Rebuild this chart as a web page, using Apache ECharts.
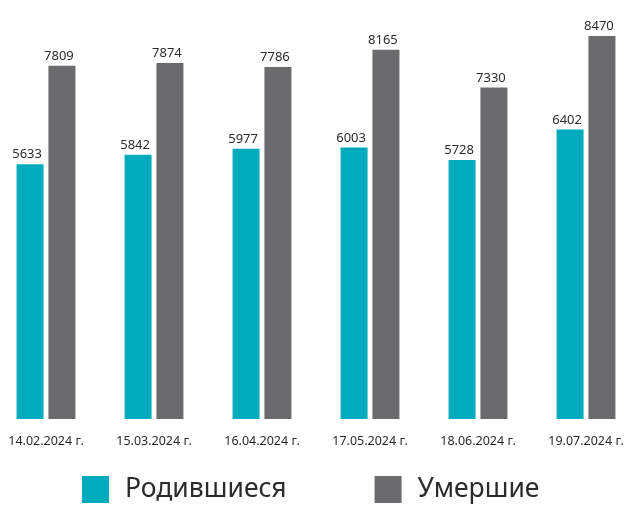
<!DOCTYPE html>
<html>
<head>
<meta charset="utf-8">
<script src="https://cdn.jsdelivr.net/npm/echarts@6/dist/echarts.min.js"></script>
<style>html,body{margin:0;padding:0;background:#fff;overflow:hidden}#c{width:648px;height:506px;margin-left:-8px}</style>
</head>
<body>
<div id="c"></div>
<script>
const categories = ['14.02.2024 г.', '15.03.2024 г.', '16.04.2024 г.', '17.05.2024 г.', '18.06.2024 г.', '19.07.2024 г.'];
const born = [5633, 5842, 5977, 6003, 5728, 6402];
const died = [7809, 7874, 7786, 8165, 7330, 8470];
const seriesNames = ['Родившиеся', 'Умершие'];

const chart = echarts.init(document.getElementById('c'), null, {renderer: 'canvas'});
const font = 'Noto Sans';
const labelCfg = {
  show: true, position: 'top', distance: 3, offset: [-3, 0],
  color: '#2b2b2b', fontSize: 13, fontFamily: font
};
chart.setOption({
  animation: false,
  grid: {left: 0, right: 0, top: 12, bottom: 87, containLabel: false},
  legend: {
    left: 90, top: 476, padding: 0,
    itemWidth: 27, itemHeight: 27, itemGap: 88,
    icon: 'rect',
    textStyle: {fontSize: 26.5, color: '#2b2b2b', fontFamily: font, padding: [0, 0, 0, 11]},
    data: seriesNames
  },
  xAxis: {
    type: 'category', data: categories,
    axisLine: {show: false}, axisTick: {show: false},
    axisLabel: {color: '#2b2b2b', fontSize: 12.5, fontFamily: font, margin: 16}
  },
  yAxis: {
    type: 'value', min: 0, max: 9000,
    show: false, splitLine: {show: false}
  },
  series: [
    {name: seriesNames[0], type: 'bar', data: born, barWidth: 27, barGap: '18%',
     itemStyle: {color: '#00abbd'}, label: labelCfg},
    {name: seriesNames[1], type: 'bar', data: died, barWidth: 27, barGap: '18%',
     itemStyle: {color: '#6b6b6d'}, label: labelCfg}
  ]
});
</script>
</body>
</html>
